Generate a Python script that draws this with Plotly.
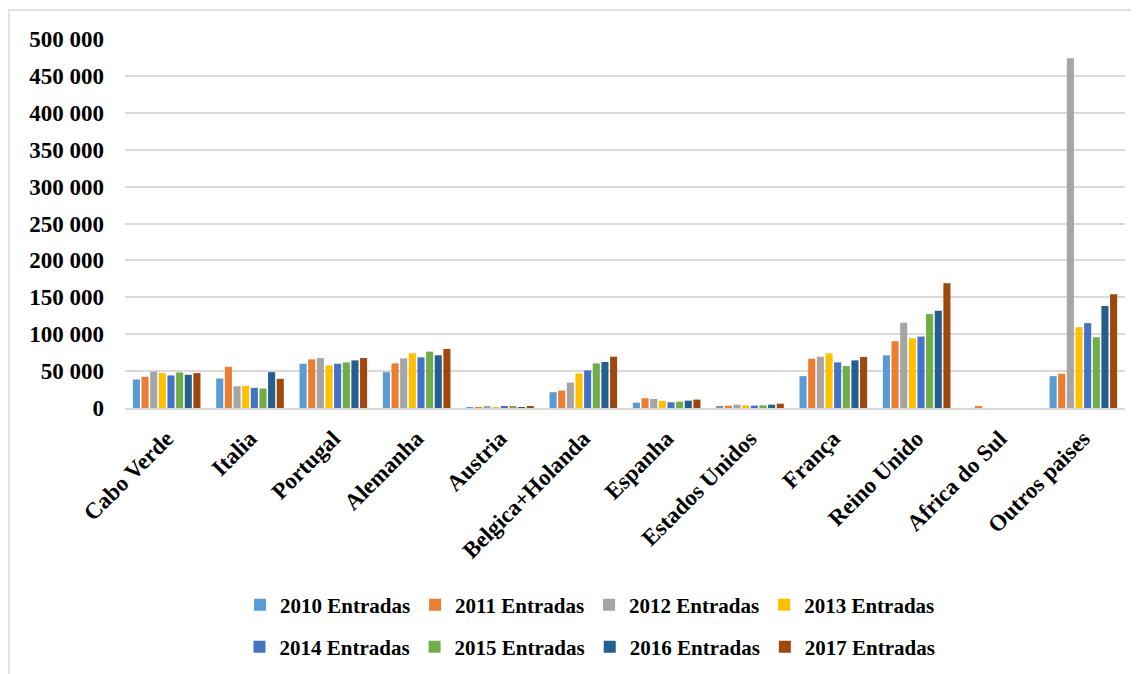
import plotly.graph_objects as go

categories = ["Cabo Verde", "Italia", "Portugal", "Alemanha", "Austria", "Belgica+Holanda",
              "Espanha", "Estados Unidos", "França", "Reino Unido", "Africa do Sul", "Outros paises"]

series_names = ["2010 Entradas", "2011 Entradas", "2012 Entradas", "2013 Entradas",
                "2014 Entradas", "2015 Entradas", "2016 Entradas", "2017 Entradas"]

v2010 = [38600, 40000, 60000, 48600, 1200, 21400, 7300, 2700, 43200, 71400, 0, 43200]
v2011 = [42300, 55900, 65900, 60500, 1300, 23600, 13200, 3200, 66800, 90500, 2300, 46400]
v2012 = [49100, 29500, 67700, 67300, 1400, 34500, 12300, 4500, 69500, 115500, 0, 474000]
v2013 = [47300, 30000, 57700, 74100, 1300, 46800, 9500, 3600, 74100, 94500, 0, 109500]
v2014 = [44100, 27300, 60000, 68600, 1400, 50900, 7700, 3200, 61800, 96800, 0, 115000]
v2015 = [48200, 26400, 61800, 76400, 1400, 60500, 8600, 3600, 56800, 127300, 0, 95900]
v2016 = [45000, 48600, 64500, 71400, 1300, 62300, 10000, 4500, 64500, 131800, 0, 138200]
v2017 = [47300, 39500, 67700, 80000, 1500, 69500, 11400, 5900, 69100, 169100, 0, 154100]

colors = ["#5B9BD5", "#ED7D31", "#A5A5A5", "#FFC000", "#4472C4", "#70AD47", "#255E91", "#9E480E"]

y_tickvals = [0, 50000, 100000, 150000, 200000, 250000, 300000, 350000, 400000, 450000, 500000]
y_ticktext = ["0", "50 000", "100 000", "150 000", "200 000", "250 000", "300 000",
              "350 000", "400 000", "450 000", "500 000"]

all_values = [v2010, v2011, v2012, v2013, v2014, v2015, v2016, v2017]

FONT = "Liberation Serif"

fig = go.Figure()
for i, (name, vals, col) in enumerate(zip(series_names, all_values, colors)):
    fig.add_trace(go.Bar(
        x=categories, y=vals, name=name,
        marker=dict(color=col, line=dict(width=0)),
        legend="legend" if i < 4 else "legend2",
    ))

fig.update_layout(
    width=1131, height=666,
    paper_bgcolor="white", plot_bgcolor="white",
    margin=dict(l=117, r=14, t=31, b=266, autoexpand=False),
    barmode="group", bargap=0.17, bargroupgap=0.18,
    font=dict(family=FONT, size=20, color="black", weight="bold"),
    xaxis=dict(
        tickangle=-45, showgrid=False, showline=True, linecolor="#d9d9d9", linewidth=2,
        ticks="", ticklabelstandoff=6, automargin=False,
        tickfont=dict(family=FONT, size=23, color="black", weight="bold"),
    ),
    yaxis=dict(
        range=[0, 500000], tickvals=y_tickvals, ticktext=y_ticktext,
        showgrid=True, gridcolor="#d9d9d9", gridwidth=1.5, zeroline=False,
        showline=False, ticks="", ticklabelstandoff=20, automargin=False,
        tickfont=dict(family=FONT, size=23, color="black", weight="bold"),
    ),
    legend=dict(
        orientation="h", x=0.465, xanchor="center",
        yref="container", y=0.1036, yanchor="middle",
        font=dict(family=FONT, size=21, color="black", weight="bold"),
        itemwidth=30, tracegroupgap=0, bgcolor="rgba(0,0,0,0)",
    ),
    legend2=dict(
        orientation="h", x=0.465, xanchor="center",
        yref="container", y=0.0405, yanchor="middle",
        font=dict(family=FONT, size=21, color="black", weight="bold"),
        itemwidth=30, tracegroupgap=0, bgcolor="rgba(0,0,0,0)",
    ),
    shapes=[dict(
        type="rect", xref="paper", yref="paper",
        x0=-0.116, x1=1.1, y0=-0.8, y1=1.0786,
        line=dict(color="#d9d9d9", width=1.5), fillcolor="rgba(0,0,0,0)", layer="below",
    )],
)

fig.write_html("out.html")
